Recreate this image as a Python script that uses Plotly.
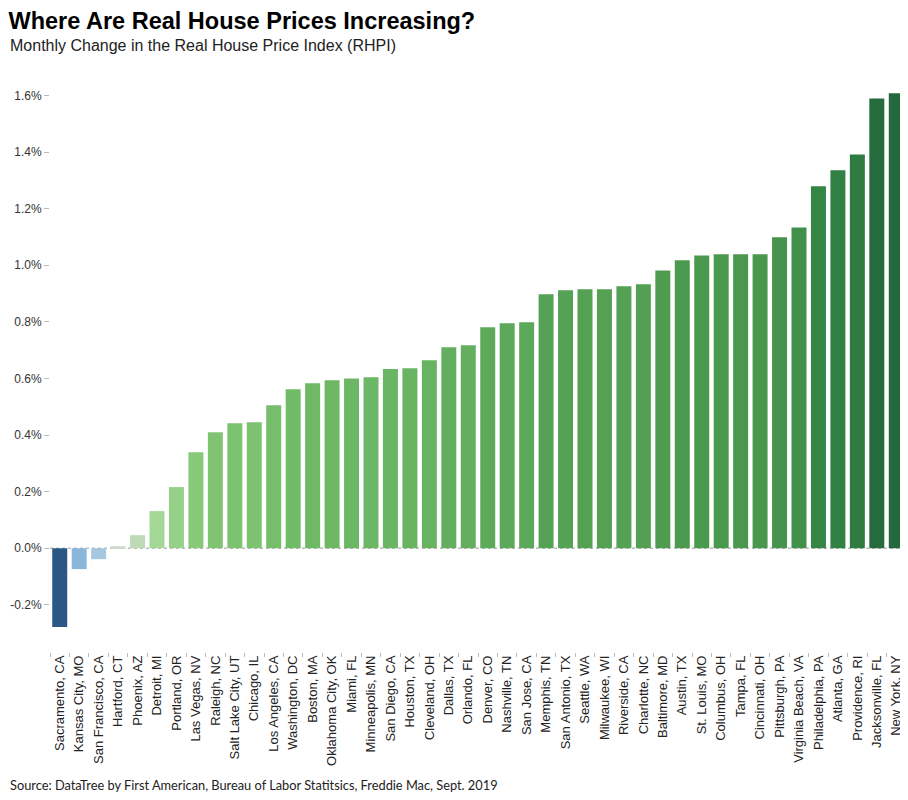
import plotly.graph_objects as go

cities = ["Sacramento, CA", "Kansas City, MO", "San Francisco, CA", "Hartford, CT", "Phoenix, AZ",
          "Detroit, MI", "Portland, OR", "Las Vegas, NV", "Raleigh, NC", "Salt Lake City, UT",
          "Chicago, IL", "Los Angeles, CA", "Washington, DC", "Boston, MA", "Oklahoma City, OK",
          "Miami, FL", "Minneapolis, MN", "San Diego, CA", "Houston, TX", "Cleveland, OH",
          "Dallas, TX", "Orlando, FL", "Denver, CO", "Nashville, TN", "San Jose, CA",
          "Memphis, TN", "San Antonio, TX", "Seattle, WA", "Milwaukee, WI", "Riverside, CA",
          "Charlotte, NC", "Baltimore, MD", "Austin, TX", "St. Louis, MO", "Columbus, OH",
          "Tampa, FL", "Cincinnati, OH", "Pittsburgh, PA", "Virginia Beach, VA", "Philadelphia, PA",
          "Atlanta, GA", "Providence, RI", "Jacksonville, FL", "New York, NY"]

rhpi_change = [-0.279, -0.074, -0.039, 0.007, 0.046,
               0.131, 0.216, 0.339, 0.410, 0.442,
               0.445, 0.505, 0.562, 0.583, 0.594,
               0.600, 0.604, 0.633, 0.636, 0.664,
               0.710, 0.717, 0.781, 0.795, 0.799,
               0.898, 0.912, 0.915, 0.915, 0.926,
               0.933, 0.982, 1.018, 1.035, 1.039,
               1.039, 1.039, 1.099, 1.134, 1.279,
               1.336, 1.392, 1.590, 1.608]

y_tickvals = [-0.2, 0.0, 0.2, 0.4, 0.6, 0.8, 1.0, 1.2, 1.4, 1.6]
y_ticktext = ["-0.2%", "0.0%", "0.2%", "0.4%", "0.6%", "0.8%", "1.0%", "1.2%", "1.4%", "1.6%"]

vmin, vmax = min(rhpi_change), max(rhpi_change)
stops = [(-0.279, "#2a5783"), (-0.15, "#5b8fbb"), (-0.05, "#98c2e2"), (0.0, "#d3d8d3"),
         (0.05, "#bcdab5"), (0.13, "#a3d795"), (0.3, "#8bcc7b"), (0.6, "#6cb765"),
         (1.0, "#4e9b50"), (1.3, "#328444"), (1.608, "#24693d")]
colorscale = [[(v - vmin) / (vmax - vmin), c] for v, c in stops]
colorscale[0][0] = 0.0
colorscale[-1][0] = 1.0

fig = go.Figure(go.Bar(
    x=cities, y=rhpi_change,
    marker=dict(color=rhpi_change, colorscale=colorscale, cmin=vmin, cmax=vmax, line=dict(width=0)),
    hovertemplate="%{x}: %{y:.2f}%<extra></extra>",
))

font_main = "Liberation Sans, Arial, sans-serif"

# page body has an 8px margin, so the figure is 900x792 placed at (8, 8)
W, H = 900, 792
L, R, T, B = 42, 2, 72, 148
PH = H - T - B
PW = W - L - R

fig.update_layout(
    width=W, height=H,
    margin=dict(l=L, r=R, t=T, b=B, autoexpand=False),
    paper_bgcolor="white", plot_bgcolor="white",
    bargap=0.23,
    showlegend=False,
    font=dict(family=font_main, color="#333333"),
    title=dict(text="<b>Where Are Real House Prices Increasing?</b>",
               x=0.5 / W, xanchor="left", xref="container",
               y=1 - 12.5 / H, yanchor="middle", yref="container",
               font=dict(size=23.5, color="#000000", family=font_main)),
    xaxis=dict(tickangle=-90, tickfont=dict(size=13, color="#222222"),
               showgrid=False, showline=False, zeroline=False, automargin=False,
               ticks="outside", tickson="boundaries", ticklen=4, tickcolor="#bbbbbb",
               range=[-0.5, len(cities) - 0.5]),
    yaxis=dict(range=[-0.367, 1.655], tickvals=y_tickvals, ticktext=y_ticktext,
               tickfont=dict(size=12, color="#333333"), automargin=False,
               showgrid=False, showline=False, zeroline=False,
               ticks="outside", ticklen=5, tickcolor="#bbbbbb"),
    shapes=[dict(type="line", xref="paper", yref="y", x0=0, x1=1, y0=0, y1=0,
                 line=dict(color="#999999", width=1, dash="dot"), layer="below")],
    annotations=[
        dict(text="Monthly Change in the Real House Price Index (RHPI)", xref="paper", yref="paper",
             x=(0 - L) / PW, y=(H - B - 37.5) / PH, xanchor="left", yanchor="middle",
             showarrow=False, font=dict(size=16, color="#222222", family=font_main)),
        dict(text="Source: DataTree by First American, Bureau of Labor Statitsics, Freddie Mac, Sept. 2019",
             xref="paper", yref="paper", x=(0 - L) / PW, y=(H - B - 777) / PH,
             xanchor="left", yanchor="middle", showarrow=False,
             font=dict(size=12.8, color="#222222", family="Lato, sans-serif")),
    ],
)

fig.write_html("out.html")
